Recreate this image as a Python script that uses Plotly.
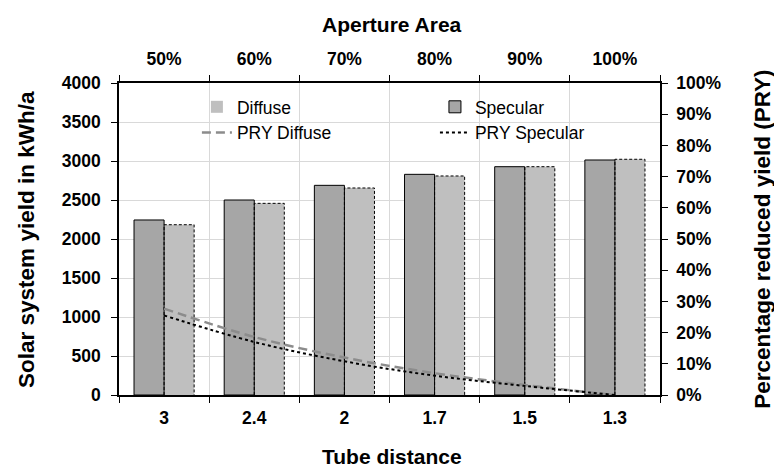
import plotly.graph_objects as go

tube_distance = ["3", "2.4", "2", "1.7", "1.5", "1.3"]
aperture_area = ["50%", "60%", "70%", "80%", "90%", "100%"]
specular_yield = [2244, 2500, 2688, 2829, 2927, 3013]
diffuse_yield = [2183, 2457, 2654, 2808, 2927, 3022]
pry_specular = [0.255, 0.170, 0.108, 0.062, 0.029, 0.0]
pry_diffuse = [0.277, 0.186, 0.120, 0.070, 0.032, 0.0]

pos = list(range(len(tube_distance)))
bw = 1 / 3

FONT = "Liberation Sans, Arial, sans-serif"
tickfont = dict(family=FONT, size=17.5, color="black", weight="bold")
legfont = dict(family=FONT, size=17.5, color="black")

fig = go.Figure()

fig.add_trace(go.Bar(
    x=pos, y=diffuse_yield, name="Diffuse", offset=0, width=bw,
    marker=dict(color="#bfbfbf", line=dict(color="#404040", width=0)),
    legend="legend",
))
fig.add_trace(go.Bar(
    x=pos, y=specular_yield, name="Specular", offset=-bw, width=bw,
    marker=dict(color="#a6a6a6", line=dict(color="black", width=1)),
    legend="legend2",
))

# dashed outline for the diffuse bars
ox, oy = [], []
for p, v in zip(pos, diffuse_yield):
    ox += [p, p, p + bw, p + bw, None]
    oy += [0, v, v, 0, None]
fig.add_trace(go.Scatter(
    x=ox, y=oy, mode="lines", showlegend=False, hoverinfo="skip",
    line=dict(color="black", width=1, dash="3px,2px"), cliponaxis=False,
))

fig.add_trace(go.Scatter(
    x=pos, y=pry_diffuse, name="PRY Diffuse", yaxis="y2", mode="lines",
    line=dict(color="#8c8c8c", width=2.5, dash="9px,5px", shape="spline"),
    legend="legend",
))
fig.add_trace(go.Scatter(
    x=pos, y=pry_specular, name="PRY Specular", yaxis="y2", mode="lines",
    line=dict(color="black", width=2, dash="dot", shape="spline"),
    legend="legend2",
))
# invisible trace to bind the top axis
fig.add_trace(go.Scatter(
    x=pos, y=specular_yield, xaxis="x2", mode="markers", showlegend=False,
    hoverinfo="skip", marker=dict(opacity=0, size=1),
))

bounds = [p - 0.5 for p in pos] + [pos[-1] + 0.5]

legend_common = dict(
    orientation="v", xanchor="left", yanchor="top", font=legfont,
    bgcolor="rgba(0,0,0,0)", tracegroupgap=0,
)

fig.update_layout(
    width=774, height=467,
    margin=dict(l=119, r=114, t=83, b=72),
    plot_bgcolor="white", paper_bgcolor="white",
    barmode="overlay",
    showlegend=True,
    font=dict(family=FONT, color="black"),
    legend=dict(x=0.144, y=0.981, **legend_common),
    legend2=dict(x=0.584, y=0.981, **legend_common),
    xaxis=dict(
        range=[-0.5, 5.5], tickmode="array", tickvals=pos, ticktext=tube_distance,
        ticks="outside", ticklen=6, tickcolor="rgba(0,0,0,0)",
        showgrid=False, zeroline=False,
        showline=True, linecolor="black", linewidth=1.5,
        tickfont=tickfont,
        minor=dict(tickmode="array", tickvals=bounds, ticks="outside", ticklen=6,
                   tickcolor="black", tickwidth=1, showgrid=True,
                   gridcolor="#d9d9d9", gridwidth=1),
    ),
    xaxis2=dict(
        overlaying="x", side="top", range=[-0.5, 5.5], tickmode="array",
        tickvals=pos, ticktext=aperture_area,
        ticks="outside", ticklen=6, tickcolor="rgba(0,0,0,0)",
        ticklabelstandoff=3,
        showgrid=False, zeroline=False,
        showline=True, linecolor="black", linewidth=1.5,
        tickfont=tickfont,
        minor=dict(tickmode="array", tickvals=bounds, ticks="outside", ticklen=6,
                   tickcolor="black", tickwidth=1, showgrid=False),
    ),
    yaxis=dict(
        range=[0, 4000], dtick=500, tick0=0, ticks="outside", ticklen=6,
        ticklabelstandoff=7,
        tickcolor="black", showgrid=True, gridcolor="#d9d9d9", gridwidth=1,
        zeroline=False, showline=True, linecolor="black", linewidth=1.5,
        tickfont=tickfont,
    ),
    yaxis2=dict(
        overlaying="y", side="right", range=[0, 1], dtick=0.1, tick0=0,
        tickformat=".0%", ticks="outside", ticklen=6, tickcolor="black",
        ticklabelstandoff=5,
        showgrid=False, zeroline=False, showline=True, linecolor="black",
        linewidth=1.5, tickfont=tickfont,
    ),
)

htitle = dict(family=FONT, size=21, color="black")
vtitle = dict(family=FONT, size=22.5, color="black")
fig.add_annotation(text="<b>Aperture Area</b>", xref="paper", yref="paper",
                   x=0.505, y=1.189, showarrow=False, font=htitle,
                   xanchor="center", yanchor="middle")
fig.add_annotation(text="<b>Tube distance</b>", xref="paper", yref="paper",
                   x=0.505, y=-0.196, showarrow=False, font=htitle,
                   xanchor="center", yanchor="middle")
fig.add_annotation(text="<b>Solar system yield in kWh/a</b>", xref="paper", yref="paper",
                   x=-0.172, y=0.5, showarrow=False, font=vtitle, textangle=-90,
                   xanchor="center", yanchor="middle")
fig.add_annotation(text="<b>Percentage reduced yield (PRY)</b>", xref="paper", yref="paper",
                   x=1.188, y=0.5, showarrow=False, font=vtitle, textangle=-90,
                   xanchor="center", yanchor="middle")

fig.write_html(
    "out.html",
    config={"displayModeBar": False},
    post_script="document.body.style.margin='0';document.body.style.overflow='hidden';",
)
